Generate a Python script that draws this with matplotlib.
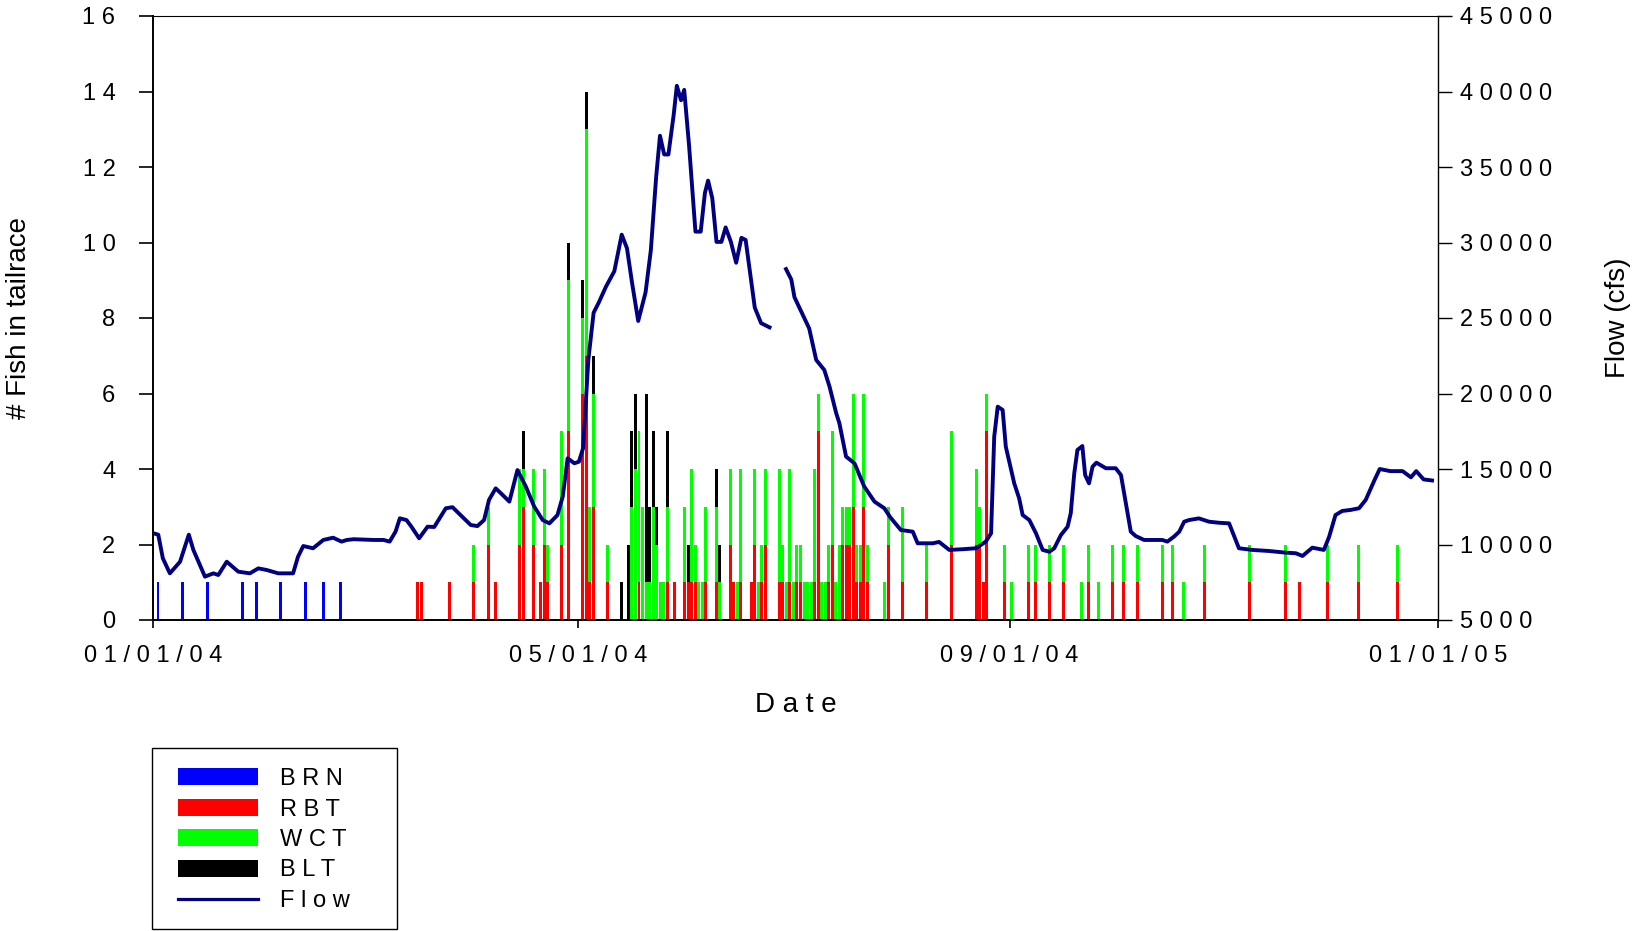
import numpy as np
import matplotlib
matplotlib.use("Agg")
import matplotlib.pyplot as plt
from matplotlib.patches import Patch, Rectangle
from matplotlib.lines import Line2D

plt.rcParams["font.family"] = ["Liberation Sans", "DejaVu Sans"]

# fish counts per day, day = days since 01/01/04 (stacked BRN, RBT, WCT, BLT)
fish_day = [1, 8, 15, 25, 29, 36, 43, 48, 53,
            75, 76, 84, 91, 95, 97, 104, 105, 108, 110, 111, 112, 116, 118,
            122, 123, 124, 125, 129, 133, 135, 136, 137, 138, 139, 140, 141, 142, 143, 144, 145, 146, 148,
            151, 152, 153, 154, 155, 156, 157, 160, 161, 164, 165, 166, 167, 170, 171, 172, 173, 174,
            178, 179, 180, 181, 182, 183, 184, 185, 186, 187, 188, 189, 190, 191, 192, 193, 194, 195,
            196, 197, 198, 199, 200, 201, 202, 203, 208, 209, 213, 220, 227, 234, 235, 236, 237, 242, 244,
            249, 251, 255, 259, 264, 266, 269, 273, 276, 280, 287, 290, 293, 299, 312, 322, 326, 334, 343, 354]
brn = [1, 1, 1, 1, 1, 1, 1, 1, 1,
       0, 0, 0, 0, 0, 0, 0, 0, 0, 0, 0, 0, 0, 0,
       0, 0, 0, 0, 0, 0, 0, 0, 0, 0, 0, 0, 0, 0, 0, 0, 0, 0, 0,
       0, 0, 0, 0, 0, 0, 0, 0, 0, 0, 0, 0, 0, 0, 0, 0, 0, 0,
       0, 0, 0, 0, 0, 0, 0, 0, 0, 0, 0, 0, 0, 0, 0, 0, 0, 0,
       0, 0, 0, 0, 0, 0, 0, 0, 0, 0, 0, 0, 0, 0, 0, 0, 0, 0, 0,
       0, 0, 0, 0, 0, 0, 0, 0, 0, 0, 0, 0, 0, 0, 0, 0, 0, 0, 0, 0]
rbt = [0, 0, 0, 0, 0, 0, 0, 0, 0,
       1, 1, 1, 1, 2, 1, 2, 3, 2, 1, 2, 1, 2, 5,
       6, 7, 1, 3, 1, 0, 0, 0, 0, 1, 0, 0, 0, 0, 0, 0, 0, 1, 1,
       1, 1, 1, 1, 0, 0, 1, 1, 0, 2, 1, 0, 1, 1, 2, 0, 1, 2,
       1, 1, 0, 1, 0, 1, 1, 0, 0, 0, 1, 5, 0, 0, 1, 2, 0, 0,
       2, 2, 2, 3, 1, 1, 3, 1, 0, 2, 1, 1, 2, 2, 2, 1, 5, 1, 0,
       1, 1, 1, 1, 0, 1, 0, 1, 1, 1, 1, 1, 0, 1, 1, 1, 1, 1, 1, 1]
wct = [0, 0, 0, 0, 0, 0, 0, 0, 0,
       0, 0, 0, 1, 1, 0, 2, 1, 2, 0, 2, 1, 3, 4,
       2, 6, 2, 3, 1, 0, 0, 3, 4, 4, 3, 1, 1, 3, 2, 1, 1, 2, 0,
       2, 0, 3, 1, 1, 1, 2, 2, 1, 2, 0, 1, 3, 0, 2, 1, 1, 2,
       3, 1, 1, 3, 1, 1, 1, 1, 1, 1, 3, 1, 1, 1, 1, 3, 1, 2,
       1, 1, 1, 3, 1, 1, 3, 1, 1, 1, 2, 1, 3, 2, 1, 0, 1, 1, 1,
       1, 1, 1, 1, 1, 1, 1, 1, 1, 1, 1, 1, 1, 1, 1, 1, 0, 1, 1, 1]
blt = [0, 0, 0, 0, 0, 0, 0, 0, 0,
       0, 0, 0, 0, 0, 0, 0, 1, 0, 0, 0, 0, 0, 1,
       1, 1, 0, 1, 0, 1, 2, 2, 2, 0, 0, 5, 2, 2, 1, 0, 0, 2, 0,
       0, 1, 0, 0, 0, 0, 0, 1, 1, 0, 0, 0, 0, 0, 0, 0, 0, 0,
       0, 0, 0, 0, 0, 0, 0, 0, 0, 0, 0, 0, 0, 0, 0, 0, 0, 0,
       0, 0, 0, 0, 0, 0, 0, 0, 0, 0, 0, 0, 0, 0, 0, 0, 0, 0, 0,
       0, 0, 0, 0, 0, 0, 0, 0, 0, 0, 0, 0, 0, 0, 0, 0, 0, 0, 0, 0]

# river flow (cfs), nan = missing record
flow_day = [0, 1.5, 2.8, 4.8, 7.7, 9.1, 10.2, 11.5, 14.8, 17.2, 18.6, 21, 24.3, 27.6, 30,
            32.4, 35.7, 39.9, 41.3, 42.8, 45.6, 48.5, 51.3, 53.7, 55.2, 57.2, 62.9, 65.7,
            67.4, 69.1, 70.3, 72.2, 73.6, 75.8, 78.2, 80.1, 83.4, 85.3, 87.6, 90.5, 92.4,
            94.3, 95.7, 97.6, 99.1, 101.5, 103.8, 106.2, 108.6, 111, 112.9, 115.2, 116.7,
            118.1, 120, 121.3, 122.5, 124, 125.5, 127, 129, 131.4, 133.5, 135, 136.4, 138.2,
            140.3, 141.8, 143.3, 144.4, 145.6, 146.8, 148.3, 149.2, 150.4, 151.3, 152.7,
            154.5, 156, 157.2, 158.1, 159.3, 160.5, 161.9, 163.1, 164.6, 166.1, 167.6, 168.8,
            170, 171.4, 173.2, 175.6, 178,
            180.3, 181.8, 182.7, 184.8, 186.9, 188.9, 191.2, 192.7, 194.6, 195.5, 197.4,
            199.8, 202.6, 205.5, 208.3, 210, 213, 216.4, 217.8, 222.1, 223.9, 226.8, 230.8,
            234.4, 237.2, 238.7, 239.6, 240.6, 242, 242.9, 245.3, 246.7, 247.7, 249.6,
            251.5, 253.4, 255.3, 256.7, 258.6, 260.5, 261.4, 262.4, 263.3, 264.7, 265.5,
            266.6, 267.6, 268.7, 271.4, 274.2, 275.7, 277.1, 278.5, 279.9, 282.3, 287.5,
            288.9, 290.8, 292.3, 293.7, 295.1, 297.9, 300.8, 303.6, 306.5, 309.3, 313.1,
            317.9, 322.6, 325.5, 327.4, 330.2, 333.5, 335, 336.8, 338.7, 341.1, 343.5,
            345.4, 348, 349.4, 352.4, 355.9, 358.3, 359.8, 361.9, 364.3]
flow_cfs = [10750, 10650, 9090, 8090, 8860, 9850, 10650, 9640, 7870, 8090, 7980, 8860, 8200, 8090, 8420,
            8310, 8090, 8090, 9190, 9900, 9750, 10300, 10450, 10190, 10300, 10350, 10300, 10300,
            10190, 10860, 11735, 11620, 11180, 10410, 11180, 11160, 12400, 12470, 11950, 11290, 11220,
            11620, 12950, 13720, 13390, 12840, 14930, 13830, 12500, 11620, 11400, 11950, 13170,
            15710, 15380, 15480, 16380, 22240, 25350, 26040, 27070, 28100, 30520, 29620, 27400, 24800,
            26700, 29500, 34310, 37070, 35830, 35830, 38450, 40380, 39420, 40110, 36380,
            30720, 30720, 33280, 34100, 32930, 30040, 30040, 31000, 30040, 28660, 30310, 30170,
            28100, 25690, 24660, 24380, np.nan,
            28240, 27550, 26380, 25350, 24310, 22220, 21560, 20450, 18690, 18030, 15820,
            15380, 13830, 12840, 12400, 11800, 10960, 10850, 10080, 10080, 10170, 9640, 9690,
            9750, 10190, 10740, 17140, 19130, 18910, 16480, 14050, 13060, 11950, 11620,
            10740, 9640, 9520, 9750, 10630, 11180, 12070, 14720, 16260, 16520, 14600,
            14050, 15150, 15420, 15050, 15050, 14600, 12730, 10850, 10560, 10300, 10300,
            10190, 10520, 10850, 11510, 11620, 11730, 11510, 11440, 11400, 9750, 9640,
            9570, 9460, 9420, 9240, 9790, 9640, 10520, 11950, 12220, 12290, 12400,
            12950, 14310, 15000, 14860, 14860, 14450, 14860, 14310, 14240]

species = ["BRN", "RBT", "WCT", "BLT"]
species_colors = ["#0000ff", "#ff0000", "#00ff00", "#000000"]
flow_color = "#000080"

x_ticks = [0, 121, 244, 366]
x_labels = ["01/01/04", "05/01/04", "09/01/04", "01/01/05"]
fish_ticks = list(range(0, 17, 2))
flow_ticks = list(range(5000, 45001, 5000))


def spaced(s):
    # the source plot draws these labels letter-spaced
    return " ".join(str(s))


fig = plt.figure(figsize=(16.33, 9.31), dpi=100)
ax = fig.add_axes([153 / 1633, 311 / 931, 1285 / 1633, 604 / 931])

bottom = np.zeros(len(fish_day))
for counts, color in zip([brn, rbt, wct, blt], species_colors):
    counts = np.array(counts, dtype=float)
    ax.bar(fish_day, counts, width=0.85, bottom=bottom, align="edge",
           color=color, linewidth=0)
    bottom += counts

ax.set_xlim(0, 366)
ax.set_ylim(0, 16)
ax.set_xticks(x_ticks)
ax.set_xticklabels([spaced(s) for s in x_labels])
ax.set_yticks(fish_ticks)
ax.set_yticklabels([spaced(v) for v in fish_ticks])
ax.tick_params(axis="y", direction="out", length=10, width=1.2, labelsize=17, pad=17)
ax.tick_params(axis="x", direction="out", length=6, width=1.2, labelsize=17, pad=12)
ax.set_ylabel("# Fish in tailrace", fontsize=20)
ax.yaxis.set_label_coords(-0.094, 0.5)
ax.set_xlabel(spaced("Date"), fontsize=20)
ax.xaxis.set_label_coords(0.5, -0.12)

for side in ["left", "bottom"]:
    ax.spines[side].set_linewidth(1.4)
ax.spines["top"].set_linewidth(0.8)
ax.spines["right"].set_visible(False)

ax2 = ax.twinx()
ax2.plot(flow_day, flow_cfs, color=flow_color, lw=2.8)
ax2.set_ylim(5000, 45000)
ax2.set_yticks(flow_ticks)
ax2.set_yticklabels([spaced(v) for v in flow_ticks])
ax2.tick_params(axis="y", direction="out", length=10, width=1.0, labelsize=17, pad=6)
ax2.set_ylabel("Flow (cfs)", fontsize=20)
ax2.yaxis.set_label_coords(1.13, 0.5)
for side in ["left", "bottom", "top"]:
    ax2.spines[side].set_visible(False)
ax2.spines["right"].set_linewidth(1.0)

# legend in a plain box below the plot
handles = [Patch(facecolor=c, edgecolor="none") for c in species_colors]
handles.append(Line2D([], [], color=flow_color, lw=2.3))
labels = [spaced(s) for s in species] + [spaced("Flow")]
fig.legend(handles, labels, loc="upper left", bbox_to_anchor=(178 / 1633, 1 - 768 / 931),
           frameon=False, fontsize=17, handlelength=3.4, handleheight=0.75,
           handletextpad=0.9, labelspacing=0.36, borderpad=0, borderaxespad=0)
fig.patches.append(Rectangle((152 / 1633, 2 / 931), 245 / 1633, 181 / 931,
                             transform=fig.transFigure, fill=False,
                             edgecolor="black", linewidth=1.0))

fig.savefig("out.png", dpi=100)
